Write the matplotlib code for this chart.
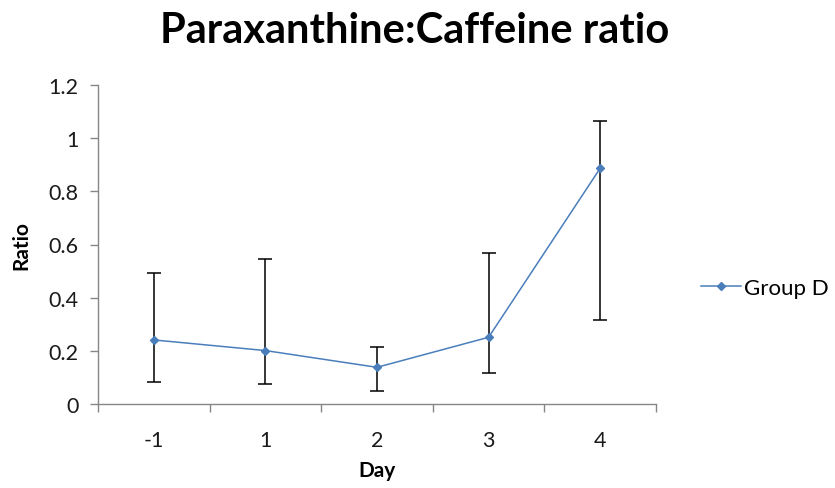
import matplotlib
matplotlib.use('Agg')
import matplotlib.pyplot as plt
import numpy as np

# data
days = ['-1', '1', '2', '3', '4']
ratio = [0.241, 0.201, 0.138, 0.251, 0.887]
err_low = [0.084, 0.077, 0.049, 0.117, 0.316]    # lower end of error bar
err_high = [0.492, 0.545, 0.215, 0.567, 1.063]   # upper end of error bar

plt.rcParams['font.family'] = ['Lato', 'DejaVu Sans']
LINE = '#4a7ebb'
AXC = '#868686'

fig = plt.figure(figsize=(8.35, 4.89), dpi=100)
ax = fig.add_axes([98/835, 1 - 405/489, (656 - 98)/835, (405 - 86)/489])

x = np.arange(len(days))
r = np.array(ratio)
yerr = [r - np.array(err_low), np.array(err_high) - r]
ax.errorbar(x, r, yerr=yerr, fmt='none', ecolor='black', elinewidth=1.1,
            capsize=5, capthick=1.1, zorder=2)
ax.plot(x, r, color=LINE, lw=1.1, marker='D', ms=4.5, mfc=LINE, mec=LINE,
        label='Group D', zorder=3)

ax.set_xlim(-0.5, len(days) - 0.5)
ax.set_ylim(0, 1.2)
ax.set_yticks(np.arange(0, 1.21, 0.2))
ax.set_yticklabels(['0', '0.2', '0.4', '0.6', '0.8', '1', '1.2'])
ax.set_xticks(x)
ax.set_xticklabels(days)
ax.set_xticks(np.arange(-0.5, len(days), 1), minor=True)

for s in ['top', 'right']:
    ax.spines[s].set_visible(False)
for s in ['left', 'bottom']:
    ax.spines[s].set_color(AXC)
    ax.spines[s].set_linewidth(1)

ax.tick_params(axis='y', colors=AXC, labelcolor='#1a1a1a', labelsize=15.5,
               length=6, width=1, pad=8)
ax.tick_params(axis='x', which='major', length=0, labelsize=15.5,
               labelcolor='#1a1a1a', pad=19)
ax.tick_params(axis='x', which='minor', colors=AXC, length=6, width=1)

ax.set_xlabel('Day', fontsize=15, fontweight='bold', labelpad=7)
ax.set_ylabel('Ratio', fontsize=15, fontweight='bold', labelpad=12)
fig.text(0.497, 0.937, 'Paraxanthine:Caffeine ratio', ha='center', va='center',
         fontsize=30, fontweight='bold')

ax.legend(loc='center left', bbox_to_anchor=(1.045, 0.365), frameon=False,
          fontsize=16, handlelength=1.8, handletextpad=0.15)

fig.savefig('out.png', dpi=100)
